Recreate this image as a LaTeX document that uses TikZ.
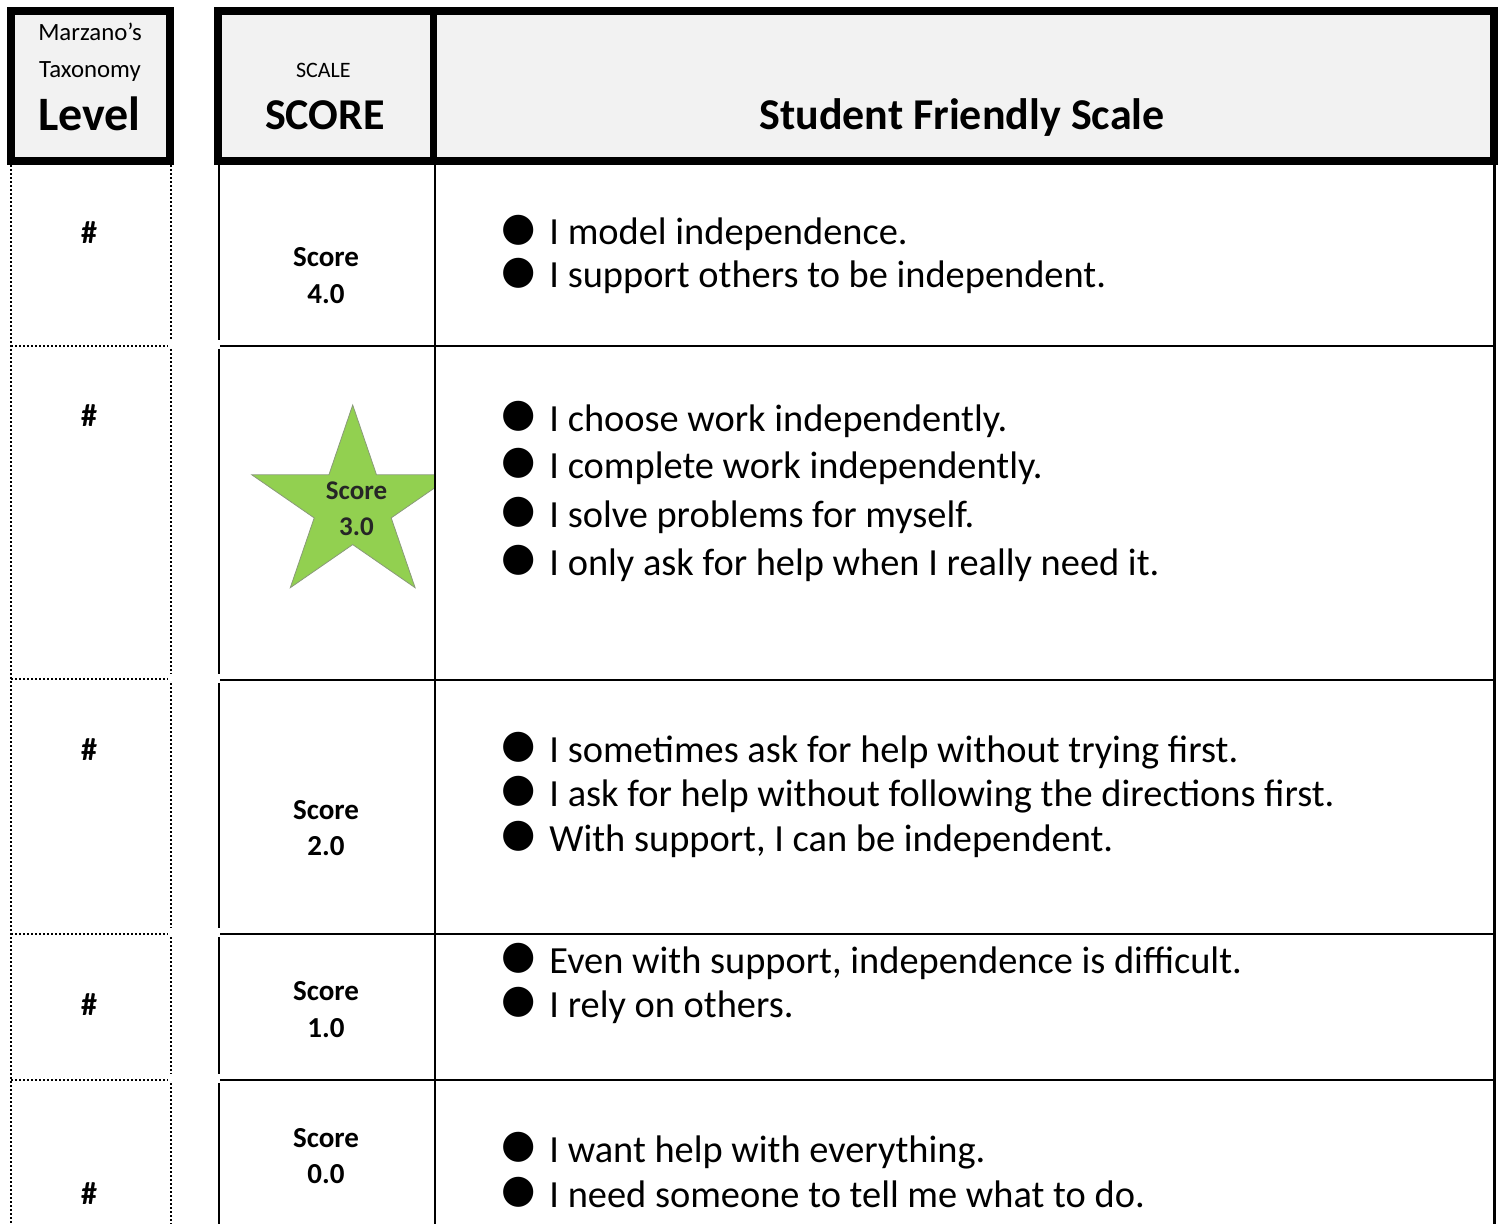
\documentclass[tikz,border=0pt]{standalone}
\usepackage{fontspec}
\setmainfont{Carlito}
\newfontfamily\symfont{DejaVu Sans}
\definecolor{hdrgray}{HTML}{F2F2F2}
\definecolor{stargreen}{HTML}{92D050}
\definecolor{staredge}{HTML}{8A9A7A}
\begin{document}
\begin{tikzpicture}[x=0.5pt,y=-0.5pt,
  hdrbox/.style={line width=4pt, fill=hdrgray},
  bodyline/.style={line width=1.3pt},
  dotline/.style={line width=1pt, dash pattern=on 1pt off 1pt},
  txt/.style={inner sep=0pt, anchor=base},
  hashtxt/.style={txt, font=\bfseries\fontsize{16}{18}\selectfont},
  scoretxt/.style={txt, font=\bfseries\fontsize{14.5}{17}\selectfont},
  itemtxt/.style={inner sep=0pt, anchor=base west, font=\fontsize{19.2}{22}\selectfont},
  bul/.style={inner sep=0pt, anchor=center, font=\symfont\fontsize{19.7}{20}\selectfont}]
\useasboundingbox (0,0) rectangle (1502,1224);

% ---------- star (clipped to the score column) ----------
\begin{scope}
  \clip (219,165) rectangle (435,1224);
  \path[fill=stargreen, draw=staredge, line width=0.4pt]
    (352.7,405) -- (376.5,474.8) -- (453.6,474.8) -- (391.2,517.9) -- (415.1,587.7)
    -- (352.7,544.6) -- (290.3,587.7) -- (314.2,517.9) -- (251.8,474.8) -- (328.9,474.8) -- cycle;
\end{scope}

% ---------- header boxes ----------
\draw[hdrbox] (10.5,11) rectangle (170,161);
\draw[hdrbox] (218,11) rectangle (1494,161);
\draw[line width=3.5pt] (433.5,11) -- (433.5,161);

% ---------- left dotted column ----------
\draw[dotline] (11,165) -- (11,1224);
\draw[dotline] (171,165) -- (171,340);
\draw[dotline] (171,349) -- (171,674);
\draw[dotline] (171,683) -- (171,928);
\draw[dotline] (171,937) -- (171,1074);
\draw[dotline] (171,1083) -- (171,1224);
\foreach \yy in {346,679.3,934,1080} {
  \draw[dotline] (11,\yy) -- (168,\yy);
}

% ---------- body grid ----------
\draw[bodyline] (219,165) -- (219,340);
\draw[bodyline] (219,349) -- (219,674);
\draw[bodyline] (219,683) -- (219,928);
\draw[bodyline] (219,937) -- (219,1074);
\draw[bodyline] (219,1083) -- (219,1224);
\draw[bodyline] (435,165) -- (435,1224);
\draw[bodyline] (1494.7,165) -- (1494.7,1224);
\foreach \yy in {346,680,934,1080} {
  \draw[bodyline] (220,\yy) -- (1494.7,\yy);
}

% ---------- header texts ----------
\node[txt, font=\fontsize{12.4}{14}\selectfont] (marz) at (90,40.7) {Marzano’s};
\node[txt, font=\fontsize{12.4}{14}\selectfont] (taxo) at (90,77.3) {Taxonomy};
\node[txt, font=\bfseries\fontsize{24}{28}\selectfont] (level) at (89.5,130.7) {Level};
\node[txt, font=\fontsize{11}{13}\selectfont] (scale) at (323.3,77.3) {SCALE};
\node[txt, font=\bfseries\fontsize{22}{26}\selectfont] (scorehd) at (325,130) {SCORE};
\node[txt, font=\bfseries\fontsize{22}{26}\selectfont] (sfs) at (962,129.3) {Student Friendly Scale};

% ---------- level column ----------
\node[hashtxt] (h4) at (89,244) {\#};
\node[hashtxt] (h3) at (89,426.7) {\#};
\node[hashtxt] (h2) at (89,760.7) {\#};
\node[hashtxt] (h1) at (89,1015) {\#};
\node[hashtxt] (h0) at (89,1204) {\#};

% ---------- score column ----------
\node[scoretxt] (s4a) at (326,266.7) {Score};
\node[scoretxt] (s4b) at (326,303.3) {4.0};
\node[txt, font=\bfseries\fontsize{13.5}{16}\selectfont, text=black!85] (s3a) at (356.5,499) {Score};
\node[txt, font=\bfseries\fontsize{13.5}{16}\selectfont, text=black!85] (s3b) at (356.5,535.7) {3.0};
\node[scoretxt] (s2a) at (326,819) {Score};
\node[scoretxt] (s2b) at (326,855) {2.0};
\node[scoretxt] (s1a) at (326,1000) {Score};
\node[scoretxt] (s1b) at (326,1037) {1.0};
\node[scoretxt] (s0a) at (326,1147) {Score};
\node[scoretxt] (s0b) at (326,1183) {0.0};

% ---------- student friendly items ----------
\foreach \yy/\linetext in {
  245/{I model independence.},
  288/{I support others to be independent.},
  431/{I choose work independently.},
  478/{I complete work independently.},
  527/{I solve problems for myself.},
  575/{I only ask for help when I really need it.},
  762/{I sometimes ask for help without trying first.},
  806/{I ask for help without following the directions first.},
  851/{With support, I can be independent.},
  973/{Even with support, independence is difficult.},
  1017/{I rely on others.},
  1162/{I want help with everything.},
  1207/{I need someone to tell me what to do.}} {
  \node[bul] (bul\yy) at (519,\yy-15) {●};
  \node[itemtxt] (item\yy) at (549,\yy) {\linetext};
}
\end{tikzpicture}
\end{document}
